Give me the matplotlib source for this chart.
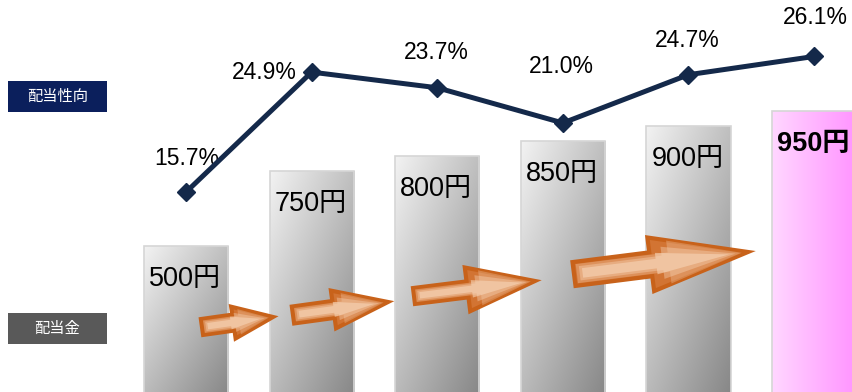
import numpy as np
import matplotlib.pyplot as plt
from matplotlib.patches import Rectangle, Polygon

# 配当金 (yen) and 配当性向 (%) by year
dividends = [500, 750, 800, 850, 900, 950]
payout = [15.7, 24.9, 23.7, 21.0, 24.7, 26.1]
div_labels = ['500円', '750円', '800円', '850円', '900円', '950円']
pct_labels = ['15.7%', '24.9%', '23.7%', '21.0%', '24.7%', '26.1%']

# label offsets from each line point, in pixels
pct_offsets = [(1, 34), (-47, 0), (-1, 35), (-1, 56), (-1, 34), (1, 39)]

latin = ['Liberation Sans', 'Noto Sans CJK JP', 'DejaVu Sans']
cjk = ['Noto Sans CJK JP', 'DejaVu Sans']

fig = plt.figure(figsize=(8.53, 3.92), dpi=100)
ax = fig.add_axes([0, 0, 1, 1])
ax.axis('off')

x = np.arange(len(dividends))
bars = ax.bar(x, dividends, width=0.67, facecolor='none',
              edgecolor='#d6d6d6', linewidth=1.2, zorder=3)

# gradient fill for each bar
ny, nx = 100, 60
xf = np.linspace(0, 1, nx)[None, :]
yf = np.linspace(1, 0, ny)[:, None]
grey = np.clip(0.95 - 0.20 * xf - 0.22 * (1 - yf), 0, 1)
grey_img = np.dstack([grey, grey, grey])
pink_l = np.array([1.0, 0.84, 1.0])
pink_r = np.array([1.0, 0.58, 1.0])
pink_img = (pink_l[None, None, :] * (1 - xf[..., None])
            + pink_r[None, None, :] * xf[..., None]) * np.ones((ny, 1, 1))

for i, b in enumerate(bars):
    x0, w, h = b.get_x(), b.get_width(), b.get_height()
    img = pink_img if i == len(bars) - 1 else grey_img
    im = ax.imshow(img, extent=(x0, x0 + w, 0, h), aspect='auto',
                   zorder=2, interpolation='bilinear')
    im.set_clip_path(b)
    weight = 'bold' if i == len(bars) - 1 else 'normal'
    ax.annotate(div_labels[i], (x[i], h), xytext=(-1, -33),
                textcoords='offset pixels', ha='center', va='center',
                fontsize=19.5, family=latin, weight=weight, zorder=5)

ax.set_xlim(-1.481, 5.31)
ax.set_ylim(13.3, 1320)

# payout ratio line
ax2 = ax.twinx()
ax2.set_ylim(0.37, 30.43)
ax2.axis('off')
ax2.plot(x, payout, color='#14294a', linewidth=3.6, marker='D',
         markersize=9, solid_joinstyle='miter', zorder=5)
for i, (p, lab) in enumerate(zip(payout, pct_labels)):
    dx, dy = pct_offsets[i]
    ax2.annotate(lab, (x[i], p), xytext=(dx, dy), textcoords='offset pixels',
                 ha='center', va='center', fontsize=16.5, family=latin)

# overlay in pixel units for arrows and side labels
ov = fig.add_axes([0, 0, 1, 1], zorder=10)
ov.set_xlim(0, 853)
ov.set_ylim(392, 0)
ov.axis('off')
ov.patch.set_alpha(0)


def arrow_poly(tail, tip, shaft, head, head_len, pad=0.0):
    tail, tip = np.array(tail, float), np.array(tip, float)
    u = (tip - tail) / np.linalg.norm(tip - tail)
    n = np.array([-u[1], u[0]])
    tail = tail + u * pad
    tip = tip - u * pad * 2.2
    base = tip - u * head_len
    return [tail + n * shaft, base + n * shaft, base + n * head, tip,
            base - n * head, base - n * shaft, tail - n * shaft]


arrows = [((202, 327), (273, 317), 8, 16, 40),
          ((293, 315), (388, 302), 8.5, 19, 55),
          ((414, 296), (535, 281), 8, 22, 68),
          ((574, 274), (748, 252), 12, 27, 98)]
for tail, tip, s, hw, hl in arrows:
    ov.add_patch(Polygon(arrow_poly(tail, tip, s, hw, hl), closed=True,
                         facecolor='#d27433', edgecolor='#c8621a',
                         linewidth=3, joinstyle='miter'))
    # soft light core, built up from a few layers
    for k, a in [(0.8, 0.3), (0.6, 0.4), (0.4, 0.6)]:
        pad = (1 - k) * s * 1.2
        ov.add_patch(Polygon(arrow_poly(tail, tip, s * k, hw * k, hl * 0.75, pad),
                             closed=True, facecolor='#f7d5b8',
                             edgecolor='none', alpha=a))

for (y0, y1, color, text) in [(81, 112, '#0b1f5c', '配当性向'),
                               (313, 344, '#595959', '配当金')]:
    ov.add_patch(Rectangle((8, y0), 99, y1 - y0, facecolor=color,
                           edgecolor='none'))
    ov.text(57.5, (y0 + y1) / 2, text, color='white', fontsize=11,
            family=cjk, ha='center', va='center')

fig.savefig('out.png', dpi=100)
